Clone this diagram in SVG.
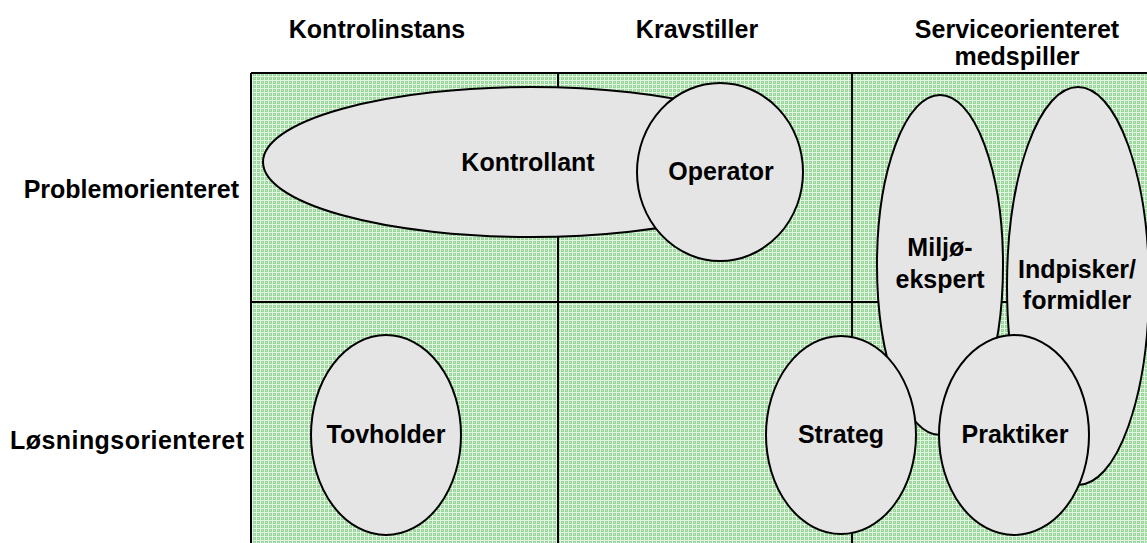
<svg xmlns="http://www.w3.org/2000/svg" width="1147" height="543" viewBox="0 0 1147 543">
<defs>
<pattern id="plaid" x="0" y="0" width="4" height="4" patternUnits="userSpaceOnUse">
<rect width="4" height="4" fill="#9ad69a"/>
<rect x="0" y="0" width="1" height="4" fill="#e2f4e2"/>
<rect x="0" y="0" width="4" height="1" fill="#e2f4e2"/>
<rect x="2" y="2" width="1" height="1" fill="#c2e8c2"/>
</pattern>
<style>
.lbl{font-family:"Liberation Sans",Arial,sans-serif;font-weight:bold;font-size:25px;fill:#000;text-anchor:middle}
.hdr{font-family:"Liberation Sans",Arial,sans-serif;font-weight:bold;font-size:25px;fill:#000}
.node{fill:#e5e5e5;stroke:#000;stroke-width:2}
.gl{stroke:#000;stroke-width:2;fill:none}
</style>
</defs>
<rect width="1147" height="543" fill="#ffffff"/>
<g id="grid">
<rect x="251" y="73" width="900" height="475" fill="url(#plaid)"/>
<line class="gl" x1="251" y1="73" x2="1147" y2="73"/>
<line class="gl" x1="251" y1="73" x2="251" y2="543"/>
<line class="gl" x1="558" y1="73" x2="558" y2="543"/>
<line class="gl" x1="852" y1="73" x2="852" y2="543"/>
<line class="gl" x1="251" y1="302" x2="1147" y2="302"/>
</g>
<g id="headers">
<text class="lbl" x="377" y="38">Kontrolinstans</text>
<text class="lbl" x="697" y="38">Kravstiller</text>
<text class="lbl" x="1017" y="38">Serviceorienteret</text>
<text class="lbl" x="1017" y="65">medspiller</text>
<text class="hdr" x="239" y="198" text-anchor="end">Problemorienteret</text>
<text class="hdr" x="244" y="449" text-anchor="end" textLength="234" lengthAdjust="spacing">Løsningsorienteret</text>
</g>
<g id="connectors"></g>
<g id="kontrollant">
<ellipse class="node" cx="531" cy="162" rx="268" ry="75"/>
<text class="lbl" x="528" y="171">Kontrollant</text>
</g>
<g id="operator">
<ellipse class="node" cx="720" cy="172" rx="83" ry="89"/>
<text class="lbl" x="721" y="180">Operator</text>
</g>
<g id="miljoekspert">
<ellipse class="node" cx="940" cy="265" rx="63" ry="170"/>
<text class="lbl" x="940" y="256">Miljø-</text>
<text class="lbl" x="940" y="288">ekspert</text>
</g>
<g id="indpisker">
<ellipse class="node" cx="1078" cy="286" rx="71" ry="199"/>
<text class="lbl" x="1077" y="278">Indpisker/</text>
<text class="lbl" x="1077" y="309">formidler</text>
</g>
<g id="tovholder">
<ellipse class="node" cx="386" cy="435" rx="75" ry="100"/>
<text class="lbl" x="386" y="443">Tovholder</text>
</g>
<g id="strateg">
<ellipse class="node" cx="841" cy="435" rx="75" ry="99"/>
<text class="lbl" x="841" y="443">Strateg</text>
</g>
<g id="praktiker">
<ellipse class="node" cx="1014" cy="435" rx="75" ry="100"/>
<text class="lbl" x="1015" y="443">Praktiker</text>
</g>
</svg>
